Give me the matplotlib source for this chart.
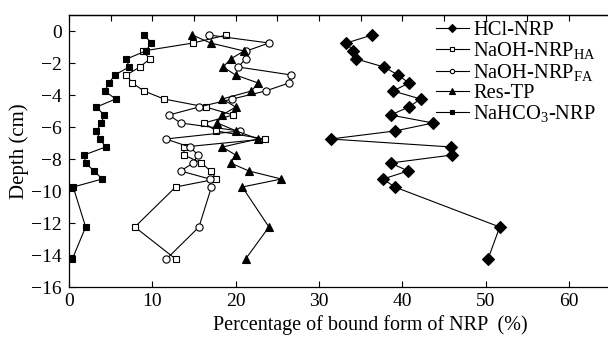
import matplotlib
matplotlib.use("Agg")
import matplotlib.pyplot as plt
from matplotlib.lines import Line2D

plt.rcParams['font.family'] = ['Liberation Serif', 'DejaVu Serif']
plt.rcParams['mathtext.fontset'] = 'custom'
plt.rcParams['mathtext.rm'] = 'Liberation Serif'

# depth of each slice (cm)
depth = [-0.25, -0.75, -1.25, -1.75, -2.25, -2.75, -3.25, -3.75, -4.25, -4.75,
         -5.25, -5.75, -6.25, -6.75, -7.25, -7.75, -8.25, -8.75, -9.25, -9.75,
         -12.25, -14.25]

# percentage of each bound form (%)
hcl_nrp = [36.4, 33.3, 34.1, 34.5, 37.8, 39.5, 40.8, 38.9, 42.2, 40.8,
           38.6, 43.7, 39.1, 31.4, 45.9, 46.0, 38.6, 40.7, 37.7, 39.1,
           51.7, 50.3]
naoh_ha = [18.9, 14.9, 8.9, 9.7, 8.5, 6.9, 7.6, 9.0, 11.4, 16.4,
           19.7, 16.2, 17.7, 23.5, 13.8, 13.8, 15.9, 17.0, 17.7, 12.8,
           7.9, 12.8]
naoh_fa = [16.8, 24.0, 21.3, 21.2, 20.3, 26.7, 26.4, 23.6, 19.6, 15.6,
           12.0, 13.4, 20.5, 11.6, 14.5, 15.5, 14.9, 13.4, 16.9, 17.1,
           15.6, 11.7]
res_tp = [14.8, 17.0, 21.0, 19.4, 18.5, 20.0, 22.7, 21.9, 18.4, 20.0,
          18.4, 17.8, 20.1, 22.7, 18.4, 20.0, 19.4, 21.6, 25.5, 20.8,
          24.0, 21.2]
nahco3 = [9.0, 9.9, 9.2, 6.9, 7.2, 5.5, 4.8, 4.3, 5.6, 3.3,
          4.2, 3.9, 3.3, 3.7, 4.4, 1.8, 2.0, 3.0, 4.0, 0.5,
          2.0, 0.4]

labels = ['HCl-NRP', r'NaOH-NRP$_{\mathregular{HA}}$', r'NaOH-NRP$_{\mathregular{FA}}$',
          'Res-TP', r'NaHCO$_{\mathregular{3}}$-NRP']
series = [hcl_nrp, naoh_ha, naoh_fa, res_tp, nahco3]
styles = [('D', 'black', 6.5), ('s', 'white', 4.6), ('o', 'white', 5.2),
          ('^', 'black', 6.3), ('s', 'black', 4.8)]

fig = plt.figure(figsize=(6.08, 3.37), dpi=100)
ax = fig.add_axes([69 / 608, 1 - 287 / 337, 1.0 - 69 / 608, (287 - 15) / 337])

for vals, (m, fc, ms) in zip(series, styles):
    ax.plot(vals, depth, color='black', lw=0.8, marker=m, markersize=ms,
            markerfacecolor=fc, markeredgecolor='black', markeredgewidth=0.8)

ax.set_xlim(0, 64.7)
ax.set_ylim(-16, 1)
ax.set_xticks(range(0, 61, 10))
ax.set_yticks(range(-16, 1, 2))
ax.tick_params(axis='both', direction='in', labelsize=14, length=4, width=0.8)
ax.tick_params(axis='y', pad=5)
ax.tick_params(axis='x', pad=4)
ax.spines['right'].set_visible(False)
for s in ['left', 'top', 'bottom']:
    ax.spines[s].set_linewidth(0.9)

# ticks along the top spine
top = ax.secondary_xaxis('top')
top.set_xticks(range(0, 65, 5))
top.tick_params(direction='in', length=4, width=0.8, labeltop=False)
top.spines['top'].set_linewidth(0.9)

ax.set_ylabel('Depth (cm)', fontsize=15, labelpad=2)
ax.set_xlabel('Percentage of bound form of NRP  (%)', fontsize=14.5)
ax.xaxis.set_label_coords((370 - 69) / (608 - 69), -0.105)

handles = [Line2D([], [], color='black', lw=0.8, marker=m, markersize=ms * 0.6,
                  markerfacecolor=fc, markeredgecolor='black', markeredgewidth=0.8)
           for (m, fc, ms) in styles]
fig.legend(handles, labels, loc='upper left', bbox_to_anchor=(436 / 608, 1 - 21 / 337),
           frameon=False, fontsize=14.8, handlelength=1.6, handletextpad=0.2,
           labelspacing=0.0, borderpad=0, borderaxespad=0)

fig.savefig('out.png', dpi=100)
